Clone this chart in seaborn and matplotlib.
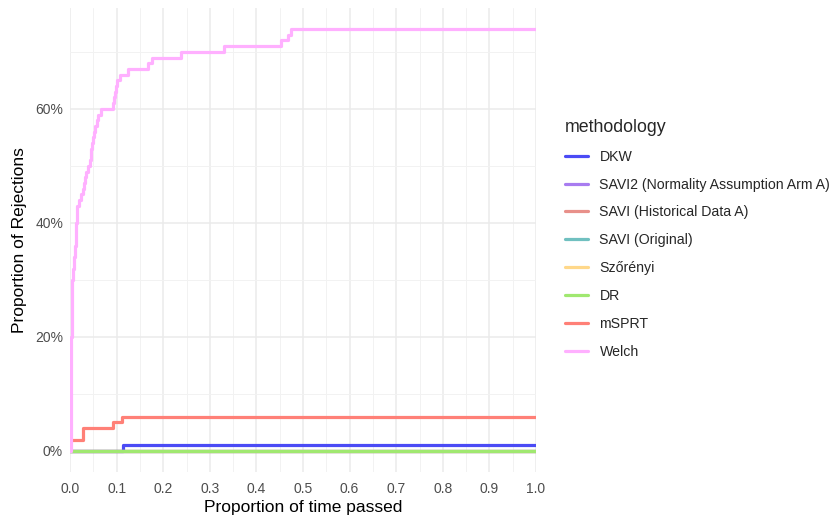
import numpy as np
import pandas as pd
import matplotlib
matplotlib.use("Agg")
import matplotlib.pyplot as plt
from matplotlib.ticker import MultipleLocator, PercentFormatter
from matplotlib.lines import Line2D
import seaborn as sns

methods = ["DKW", "SAVI2 (Normality Assumption Arm A)", "SAVI (Historical Data A)",
           "SAVI (Original)", "Szőrényi", "DR", "mSPRT", "Welch"]
colors = ["#4B4BF5", "#A87CF0", "#E8908A", "#70C0C0", "#FFD88A", "#A0E870", "#FF8077", "#FFB0FF"]

dkw_t = [0.0, 0.113, 1.0]
dkw_v = [0.0, 0.01, 0.01]
zero_t = [0.0, 1.0]
zero_v = [0.0, 0.0]
msprt_t = [0.0, 0.028, 0.093, 0.111, 1.0]
msprt_v = [0.02, 0.04, 0.05, 0.06, 0.06]
welch_t = [0.0, 0.002, 0.004, 0.005, 0.006, 0.008, 0.011, 0.012, 0.013, 0.014, 0.016,
           0.019, 0.023, 0.028, 0.031, 0.033, 0.035, 0.038, 0.042, 0.044, 0.046, 0.048,
           0.050, 0.052, 0.054, 0.057, 0.060, 0.066, 0.093, 0.095, 0.097, 0.098, 0.100,
           0.107, 0.125, 0.168, 0.175, 0.2375, 0.331, 0.452, 0.467, 0.474, 1.0]
welch_v = [0.00, 0.20, 0.26, 0.30, 0.32, 0.34, 0.36, 0.38, 0.40, 0.42, 0.43,
           0.44, 0.45, 0.46, 0.47, 0.48, 0.49, 0.50, 0.51, 0.52, 0.53, 0.54,
           0.55, 0.56, 0.57, 0.58, 0.59, 0.60, 0.61, 0.62, 0.63, 0.64, 0.65,
           0.66, 0.67, 0.68, 0.69, 0.70, 0.71, 0.72, 0.73, 0.74, 0.74]

series = {
    "DKW": (dkw_t, dkw_v),
    "SAVI2 (Normality Assumption Arm A)": (zero_t, zero_v),
    "SAVI (Historical Data A)": (zero_t, zero_v),
    "SAVI (Original)": (zero_t, zero_v),
    "Szőrényi": (zero_t, zero_v),
    "DR": (zero_t, zero_v),
    "mSPRT": (msprt_t, msprt_v),
    "Welch": (welch_t, welch_v),
}
rows = []
for m in methods:
    t, v = series[m]
    for a, b in zip(t, v):
        rows.append((m, a, b))
df = pd.DataFrame(rows, columns=["methodology", "time", "rej"])

sns.set_theme(style="white")
plt.rcParams["font.family"] = ["Liberation Sans", "DejaVu Sans"]

fig = plt.figure(figsize=(8.36, 5.15), dpi=100)
ax = fig.add_axes([70/836, 1-472/515, (536-70)/836, (472-8)/515])

sns.lineplot(data=df, x="time", y="rej", hue="methodology", hue_order=methods,
             palette=dict(zip(methods, colors)), drawstyle="steps-post",
             estimator=None, sort=False, linewidth=2.3, ax=ax, legend=False)

ax.set_xlim(0, 1)
ax.set_ylim(-0.037, 0.777)
ax.xaxis.set_major_locator(MultipleLocator(0.1))
ax.xaxis.set_minor_locator(MultipleLocator(0.05))
ax.yaxis.set_major_locator(MultipleLocator(0.2))
ax.yaxis.set_minor_locator(MultipleLocator(0.1))
ax.yaxis.set_major_formatter(PercentFormatter(xmax=1, decimals=0))
ax.xaxis.set_major_formatter(matplotlib.ticker.FormatStrFormatter("%.1f"))
ax.grid(which="major", color="#EBEBEB", linewidth=1.1)
ax.grid(which="minor", color="#F2F2F2", linewidth=0.7)
ax.set_axisbelow(True)
for s in ax.spines.values():
    s.set_visible(False)
ax.tick_params(which="both", length=0, labelsize=10, labelcolor="#4D4D4D")
ax.tick_params(axis="x", pad=7)
ax.tick_params(axis="y", pad=5)
ax.set_xlabel("Proportion of time passed", fontsize=12.5, color="black", labelpad=3)
ax.set_ylabel("Proportion of Rejections", fontsize=12.5, color="black", labelpad=6)

handles = [Line2D([0], [0], color=c, lw=2.3) for c in colors]
leg = fig.legend(handles, methods, loc="upper left", bbox_to_anchor=(552/836, 1-106/515),
                 frameon=False, title="methodology", fontsize=10.2, title_fontsize=12.8,
                 handlelength=1.65, handletextpad=0.8, labelspacing=0.98)
leg._legend_box.align = "left"

fig.savefig("out.png", dpi=100)
